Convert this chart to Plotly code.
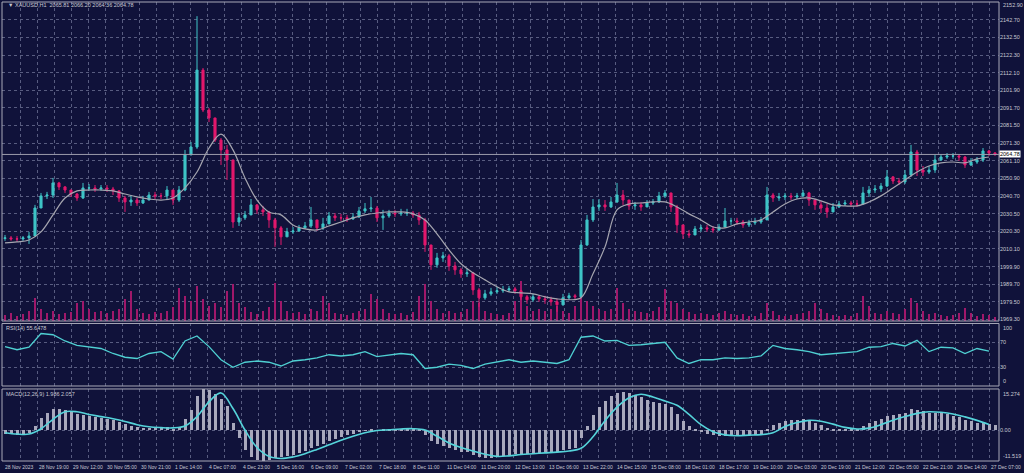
import plotly.graph_objects as go

# ---------------- data (3-hour bars) ----------------
first_open = 2016.2
close_px = [
    2016.5, 2015.9, 2015.9, 2016.5, 2017.6, 2033.8, 2040.8, 2041.3, 2048.3, 2046.0,
    2044.2, 2041.9, 2039.6, 2045.4, 2045.4, 2044.8, 2045.4, 2044.8, 2043.7, 2039.6,
    2037.3, 2038.4, 2036.7, 2038.4, 2041.3, 2040.8, 2040.8, 2044.2, 2038.4, 2044.2,
    2064.5, 2069.1, 2113.6, 2090.5, 2085.9, 2073.1, 2067.4, 2061.6, 2025.7, 2028.1,
    2029.8, 2035.6, 2032.7, 2031.5, 2026.9, 2022.3, 2017.1, 2020.0, 2020.5, 2022.3,
    2023.4, 2026.9, 2022.3, 2024.6, 2029.2, 2028.1, 2028.1, 2027.5, 2028.6, 2032.1,
    2033.3, 2033.8, 2028.1, 2029.2, 2030.9, 2030.4, 2030.9, 2030.9, 2029.8, 2026.9,
    2012.4, 2000.9, 2004.9, 2006.1, 2000.3, 1998.0, 1995.7, 1996.3, 1986.4, 1981.8,
    1984.1, 1985.3, 1985.9, 1986.4, 1987.0, 1985.9, 1982.4, 1980.7, 1982.4, 1981.2,
    1980.7, 1979.5, 1977.8, 1981.8, 1983.0, 1982.4, 2012.4, 2026.9, 2034.4, 2035.6,
    2034.4, 2037.3, 2041.3, 2038.4, 2035.0, 2035.6, 2034.4, 2036.7, 2037.3, 2040.8,
    2042.5, 2034.4, 2024.0, 2018.8, 2018.2, 2021.7, 2022.3, 2021.7, 2021.1, 2022.8,
    2026.3, 2026.3, 2025.7, 2024.0, 2025.2, 2025.7, 2026.9, 2041.3, 2039.6, 2040.2,
    2040.8, 2040.2, 2040.8, 2042.5, 2038.4, 2035.6, 2033.8, 2031.5, 2034.4, 2036.1,
    2036.7, 2036.1, 2036.1, 2042.5, 2044.2, 2044.8, 2046.5, 2051.8, 2049.4, 2048.9,
    2052.9, 2066.2, 2055.8, 2054.6, 2055.8, 2061.6, 2063.3, 2063.9, 2063.9, 2063.3,
    2058.7, 2060.4, 2061.6, 2066.8, 2065.6, 2064.78,
]
high_px = [
    2018.2, 2017.6, 2017.6, 2017.6, 2020.0, 2035.6, 2042.5, 2043.1, 2051.2, 2048.9,
    2046.5, 2044.2, 2042.5, 2048.3, 2047.7, 2047.1, 2047.1, 2047.1, 2046.0, 2044.2,
    2040.8, 2041.3, 2039.6, 2040.8, 2043.1, 2043.1, 2042.5, 2046.5, 2044.2, 2046.5,
    2067.4, 2072.0, 2144.8, 2114.8, 2091.7, 2085.9, 2074.3, 2070.3, 2061.6, 2030.9,
    2032.1, 2039.0, 2036.1, 2035.0, 2032.1, 2028.1, 2023.4, 2022.3, 2022.8, 2024.0,
    2025.7, 2034.4, 2025.7, 2028.1, 2031.5, 2030.9, 2030.4, 2029.8, 2030.9, 2034.4,
    2036.7, 2040.2, 2035.0, 2032.7, 2032.7, 2032.7, 2033.3, 2033.3, 2032.1, 2031.5,
    2028.1, 2010.7, 2007.8, 2008.4, 2007.2, 2002.6, 1999.2, 1998.6, 1996.8, 1987.6,
    1986.4, 1987.6, 1988.2, 1988.7, 1988.7, 1988.2, 1986.4, 1983.5, 1984.1, 1983.5,
    1983.0, 1982.4, 1981.2, 1984.1, 1984.7, 1984.1, 2015.3, 2029.8, 2039.0, 2039.0,
    2038.4, 2040.2, 2048.3, 2044.2, 2038.4, 2037.3, 2037.3, 2038.4, 2039.0, 2043.1,
    2044.2, 2042.5, 2035.6, 2023.4, 2021.1, 2023.4, 2024.0, 2024.0, 2023.4, 2024.6,
    2033.8, 2028.1, 2028.1, 2026.9, 2026.9, 2028.1, 2028.6, 2046.0, 2042.5, 2042.5,
    2042.5, 2042.5, 2042.5, 2044.2, 2043.1, 2039.0, 2037.9, 2036.1, 2036.7, 2037.9,
    2038.4, 2037.9, 2038.4, 2046.0, 2046.5, 2047.1, 2048.3, 2055.8, 2052.3, 2051.2,
    2055.8, 2070.3, 2067.4, 2058.1, 2058.1, 2064.5, 2065.0, 2065.6, 2065.6, 2065.0,
    2063.9, 2062.7, 2063.3, 2068.5, 2067.4, 2066.2,
]
low_px = [
    2014.8, 2014.8, 2014.2, 2014.8, 2013.0, 2018.2, 2033.8, 2039.0, 2039.6, 2044.2,
    2042.5, 2040.2, 2037.9, 2039.0, 2043.7, 2043.1, 2043.7, 2043.1, 2041.3, 2037.3,
    2031.5, 2035.0, 2035.0, 2036.1, 2039.0, 2039.0, 2039.0, 2039.0, 2035.6, 2037.3,
    2043.5, 2064.5, 2068.0, 2089.3, 2083.5, 2072.0, 2058.7, 2050.0, 2022.3, 2023.4,
    2026.9, 2030.9, 2030.4, 2029.2, 2022.3, 2011.3, 2012.4, 2017.6, 2018.8, 2020.0,
    2021.7, 2022.3, 2020.5, 2021.1, 2025.7, 2026.3, 2026.3, 2025.7, 2026.9, 2028.1,
    2030.9, 2031.5, 2025.7, 2021.1, 2028.1, 2028.6, 2029.2, 2029.2, 2028.1, 2024.0,
    2008.4, 1998.0, 1999.2, 2002.6, 1997.4, 1995.1, 1993.4, 1993.9, 1983.5, 1976.6,
    1980.7, 1983.0, 1984.1, 1984.7, 1985.3, 1984.1, 1980.7, 1978.3, 1979.5, 1979.5,
    1978.3, 1977.2, 1973.7, 1977.2, 1980.7, 1980.7, 1981.8, 2011.9, 2025.7, 2032.1,
    2032.1, 2033.8, 2036.7, 2035.6, 2032.7, 2032.7, 2032.1, 2035.0, 2035.6, 2036.7,
    2039.6, 2031.5, 2019.4, 2015.9, 2016.5, 2018.8, 2020.0, 2020.0, 2019.4, 2020.5,
    2023.4, 2024.0, 2024.0, 2022.3, 2022.8, 2024.0, 2024.6, 2028.1, 2037.3, 2037.9,
    2038.4, 2038.4, 2039.0, 2040.2, 2035.0, 2032.7, 2030.9, 2028.1, 2031.5, 2033.8,
    2035.0, 2034.4, 2034.4, 2035.6, 2040.2, 2042.5, 2043.1, 2046.0, 2047.7, 2047.1,
    2047.7, 2051.8, 2052.3, 2052.3, 2053.5, 2054.1, 2061.0, 2062.2, 2062.2, 2061.0,
    2057.0, 2058.1, 2059.3, 2060.4, 2063.9, 2063.9,
]
volume_ticks = [
    1200, 1600, 1000, 1400, 2000, 4600, 2400, 1600, 2000, 1400,
    1600, 1800, 3600, 4000, 2400, 1800, 2000, 1600, 2000, 2400,
    4400, 6000, 2400, 1600, 1400, 1800, 1600, 2000, 2800, 6600,
    5000, 4000, 7000, 4400, 3000, 3600, 2800, 6000, 7400, 3600,
    2800, 1800, 1400, 2000, 2800, 7600, 4000, 2000, 1600, 1800,
    1400, 2400, 2000, 5000, 3600, 1600, 1400, 1200, 1600, 2000,
    2400, 5400, 4400, 2400, 1600, 1400, 1600, 1200, 1800, 5000,
    7400, 4000, 2400, 1600, 2000, 1600, 1800, 2400, 4000, 3600,
    2000, 1600, 1400, 1200, 1600, 4000, 8000, 3000, 2000, 2400,
    2000, 2400, 3000, 2000, 1600, 3000, 7400, 4000, 3000, 2400,
    2000, 2400, 6600, 3600, 2400, 2000, 1800, 1600, 2000, 2800,
    6400, 4000, 3600, 2400, 1800, 1400, 1600, 1400, 1200, 1600,
    2000, 1400, 1200, 1400, 1000, 1000, 1600, 3600, 2000, 1200,
    1000, 1200, 1400, 1600, 2000, 3600, 2400, 1600, 1200, 1000,
    1200, 1000, 1600, 5000, 3000, 1600, 1400, 2000, 1600, 1400,
    2400, 4600, 3600, 2000, 1400, 1600, 1200, 1000, 1200, 1600,
    2600, 1600, 1000, 1400, 1200, 800,
]
macd_main = [
    -1.5, -1.6, -1.7, -1.6, -1.2, 1.5, 4.5, 6.5, 8.0, 8.0,
    7.5, 6.8, 5.8, 5.5, 5.2, 4.8, 4.4, 4.0, 3.6, 3.0,
    2.2, 1.6, 1.0, 0.8, 0.9, 0.9, 0.8, 1.0, 0.5, 0.8,
    4.0, 7.5, 12.5, 15.27, 15.0, 13.5, 11.5, 9.0, 2.5, -3.0,
    -7.5, -10.0, -11.2, -11.5, -11.0, -10.5, -10.2, -9.8, -9.2, -8.5,
    -7.8, -6.8, -6.0, -5.2, -4.2, -3.4, -2.7, -2.0, -1.4, -0.8,
    -0.3, 0.1, 0.0, 0.1, 0.3, 0.4, 0.5, 0.6, 0.6, 0.2,
    -1.8, -4.0, -5.3, -6.0, -6.8, -7.5, -8.0, -8.3, -9.3, -10.2,
    -10.4, -10.3, -10.0, -9.6, -9.2, -8.8, -8.8, -8.9, -8.6, -8.4,
    -8.2, -8.1, -8.2, -7.6, -7.0, -6.5, -3.0, 1.5, 5.5, 8.5,
    10.8, 12.5, 13.8, 14.2, 13.8, 13.0, 12.2, 11.2, 10.3, 10.0,
    9.8, 8.5, 6.0, 3.5, 1.5, 0.2, -0.8, -1.5, -2.0, -2.3,
    -2.2, -2.0, -1.8, -1.8, -1.7, -1.7, -1.6, 0.5, 1.8, 2.6,
    3.2, 3.6, 3.8, 4.0, 3.4, 2.6, 1.8, 0.9, 0.5, 0.3,
    0.2, 0.2, 0.3, 1.5, 2.6, 3.4, 4.2, 5.2, 5.6, 5.8,
    6.2, 7.8, 7.5, 7.0, 6.5, 6.5, 6.3, 5.9, 5.4, 4.9,
    3.8, 3.2, 2.7, 2.6, 2.2, 1.986,
]
# indicator lines read every 6 hours
ma_vals = [
    2013.6, 2014.2, 2015.3, 2020.0, 2029.8, 2039.6, 2043.7, 2044.2, 2044.2, 2043.7,
    2041.9, 2040.2, 2039.0, 2038.4, 2039.6, 2045.4, 2054.6, 2068.5, 2076.6, 2067.4,
    2051.2, 2038.4, 2031.5, 2029.8, 2024.0, 2021.7, 2021.1, 2023.4, 2025.7, 2028.1,
    2029.8, 2030.9, 2031.5, 2031.5, 2030.4, 2026.9, 2018.8, 2009.6, 2001.5, 1996.3,
    1992.2, 1988.2, 1985.3, 1984.7, 1984.1, 1982.4, 1981.2, 1980.7, 1981.8, 1995.7,
    2011.3, 2032.7, 2036.1, 2036.7, 2037.3, 2037.3, 2034.4, 2030.4, 2026.9, 2022.8,
    2022.3, 2024.6, 2025.7, 2026.9, 2031.5, 2036.1, 2039.0, 2039.6, 2037.9, 2035.6,
    2035.0, 2035.0, 2037.3, 2040.8, 2045.4, 2050.0, 2054.6, 2058.1, 2059.9, 2060.4,
    2059.9, 2062.2, 2063.3,
]
rsi_vals = [
    63, 58, 62, 84, 82, 72, 65, 63, 60, 52,
    46, 44, 52, 55, 43, 72, 80, 63, 42, 30,
    38, 40, 38, 32, 40, 42, 45, 50, 48, 50,
    55, 47, 50, 52, 50, 28, 30, 35, 33, 28,
    35, 38, 42, 38, 40, 38, 36, 42, 78, 80,
    72, 73, 65, 66, 68, 70, 45, 36, 42, 42,
    45, 44, 45, 48, 65, 60, 58, 55, 50, 52,
    53, 55, 62, 63, 68, 64, 73, 55, 62, 61,
    52, 60, 55.65,
]
macd_signal = [
    -1.0, -1.5, -1.5, 0.5, 4.0, 6.8, 6.8, 5.8, 5.0, 4.2,
    3.2, 2.0, 1.2, 0.9, 0.8, 1.5, 5.0, 10.5, 13.8, 8.0,
    0.0, -6.5, -9.8, -10.6, -10.0, -8.8, -7.2, -5.5, -3.8, -2.3,
    -1.0, -0.2, 0.1, 0.4, 0.5, 0.0, -2.3, -4.8, -6.5, -7.8,
    -9.0, -9.8, -9.6, -9.1, -8.8, -8.5, -8.2, -7.8, -6.8, -2.5,
    3.5, 8.5, 12.0, 13.3, 12.3, 10.8, 9.2, 5.8, 2.0, -0.6,
    -1.8, -2.1, -1.9, -1.7, -1.0, 1.3, 2.8, 3.6, 3.3, 2.2,
    1.0, 0.4, 0.7, 2.0, 3.6, 5.0, 6.2, 6.8, 6.6, 6.0,
    4.9, 3.6, 2.057,
]
time_labels = [
    "28 Nov 2023", "28 Nov 19:00", "29 Nov 12:00", "30 Nov 05:00", "30 Nov 21:00",
    "1 Dec 14:00", "4 Dec 07:00", "4 Dec 23:00", "5 Dec 16:00", "6 Dec 09:00",
    "7 Dec 02:00", "7 Dec 18:00", "8 Dec 11:00", "11 Dec 04:00", "11 Dec 20:00",
    "12 Dec 13:00", "13 Dec 06:00", "13 Dec 22:00", "14 Dec 15:00", "15 Dec 08:00",
    "18 Dec 01:00", "18 Dec 17:00", "19 Dec 10:00", "20 Dec 03:00", "20 Dec 19:00",
    "21 Dec 12:00", "22 Dec 05:00", "22 Dec 21:00", "26 Dec 14:00", "27 Dec 07:00",
]
price_levels = [2152.9, 2142.7, 2132.5, 2122.3, 2112.1, 2101.9, 2091.7, 2081.5, 2071.3,
                2061.1, 2050.9, 2040.7, 2030.5, 2020.3, 2010.1, 1999.9, 1989.7, 1979.5, 1969.3]
rsi_grid = [70, 30]
rsi_edge_text = ["100", "0"]
macd_edge_text = ["15.274", "-11.519"]
macd_zero_text = "0.00"
last_price = 2064.78
header_text = "▼ XAUUSD,H1  2065.81 2066.20 2064.36 2064.78"
rsi_text = "RSI(14) 55.6478"
macd_text = "MACD(12,26,9) 1.986 2.057"

# ---------------- positions ----------------
N = len(close_px)
bar_hours = [3 * i + 1 for i in range(N)]
ind_hours = [6 * j + 1 for j in range(len(ma_vals))]
open_px = [first_open] + close_px[:-1]
hi = [max(h, o, c) for h, o, c in zip(high_px, open_px, close_px)]
lo = [min(l, o, c) for l, o, c in zip(low_px, open_px, close_px)]
grid_hours = [8.5 * k for k in range(1, 59)]

BG = "#10123a"
GRID = "#585c80"
DASH = "3px,3px"
TXT = "#c9c9d3"
BULL = "#3ec4c6"
BEAR = "#e2186c"
BORDER = "#a9a9b8"
FONT = "Liberation Sans"

D_MAIN = [0.305, 1.0]
D_RSI = [0.1634, 0.2996]
D_MACD = [0.0, 0.1569]

fig = go.Figure()
fig.add_trace(go.Bar(x=bar_hours, y=volume_ticks, xaxis="x", yaxis="y", width=1.4,
                     marker=dict(color="#a0186a", line=dict(width=0))))
fig.add_trace(go.Candlestick(x=bar_hours, open=open_px, high=hi, low=lo, close=close_px,
                             xaxis="x", yaxis="y4", whiskerwidth=0,
                             increasing=dict(line=dict(color=BULL, width=1), fillcolor=BULL),
                             decreasing=dict(line=dict(color=BEAR, width=1), fillcolor=BEAR)))
fig.add_trace(go.Scatter(x=ind_hours, y=ma_vals, xaxis="x", yaxis="y4", mode="lines",
                         line=dict(color="#a6a6b0", width=1.2, shape="spline")))
fig.add_trace(go.Scatter(x=ind_hours, y=rsi_vals, xaxis="x2", yaxis="y2", mode="lines",
                         line=dict(color="#4fd0d2", width=1.3)))
fig.add_trace(go.Bar(x=bar_hours, y=macd_main, xaxis="x3", yaxis="y3", width=1.5,
                     marker=dict(color="#a8a8bc", line=dict(width=0))))
fig.add_trace(go.Scatter(x=ind_hours, y=macd_signal, xaxis="x3", yaxis="y3", mode="lines",
                         line=dict(color="#55d4da", width=1.6, shape="spline")))

xcommon = dict(range=[-0.5, 498], showgrid=True, gridcolor=GRID, griddash=DASH, gridwidth=1,
               tickvals=grid_hours, showticklabels=False, zeroline=False, showline=False,
               ticks="", fixedrange=True)
tickfont = dict(size=5.5, color=TXT, family=FONT)
small = dict(size=5.5, color=TXT, family=FONT)
tiny = dict(size=5, color=TXT, family=FONT)

annotations = [
    dict(xref="paper", yref="paper", x=0.004, y=1.0, xanchor="left", yanchor="top", yshift=2,
         text=header_text, showarrow=False, font=small),
    dict(xref="paper", yref="paper", x=0.002, y=D_RSI[1], xanchor="left", yanchor="top",
         text=rsi_text, showarrow=False, font=small),
    dict(xref="paper", yref="paper", x=0.002, y=D_MACD[1], xanchor="left", yanchor="top",
         text=macd_text, showarrow=False, font=small),
    dict(xref="paper", yref="y4", x=1.0, y=last_price, xanchor="left", yanchor="middle",
         text=f"{last_price:.2f}", showarrow=False, bgcolor="#ffffff", borderpad=0,
         font=dict(size=5.5, color="#000000", family=FONT)),
    dict(xref="paper", yref="paper", x=1.0, y=1.0, xanchor="left", yanchor="top", xshift=2, yshift=2,
         text=f"{price_levels[0]:.2f}", showarrow=False, font=small),
    dict(xref="paper", yref="paper", x=1.0, y=D_RSI[1], xanchor="left", yanchor="top", xshift=2,
         text=rsi_edge_text[0], showarrow=False, font=small),
    dict(xref="paper", yref="paper", x=1.0, y=D_RSI[0], xanchor="left", yanchor="bottom", xshift=2,
         text=rsi_edge_text[1], showarrow=False, font=small),
    dict(xref="paper", yref="paper", x=1.0, y=D_MACD[1], xanchor="left", yanchor="top", xshift=2,
         text=macd_edge_text[0], showarrow=False, font=small),
    dict(xref="paper", yref="paper", x=1.0, y=D_MACD[0], xanchor="left", yanchor="bottom", xshift=2,
         text=macd_edge_text[1], showarrow=False, font=small),
]
for k, lab in enumerate(time_labels):
    annotations.append(dict(xref="x3", yref="paper", x=17 * k, y=0,
                            xanchor="left", yanchor="top",
                            yshift=-1, text=lab, showarrow=False, font=tiny))

shapes = []
for dom in (D_MAIN, D_RSI, D_MACD):
    shapes.append(dict(type="rect", xref="paper", yref="paper", x0=0, x1=1, y0=dom[0], y1=dom[1],
                       line=dict(color=BORDER, width=1), fillcolor="rgba(0,0,0,0)", layer="above"))
shapes.append(dict(type="line", xref="paper", yref="y4", x0=0, x1=1, y0=last_price, y1=last_price,
                   line=dict(color="#9c9cac", width=1), layer="above"))

fig.update_layout(
    width=1024, height=473,
    margin=dict(l=2, r=25, t=2, b=12),
    paper_bgcolor=BG, plot_bgcolor=BG,
    showlegend=False,
    font=dict(family=FONT, color=TXT, size=6),
    boxgap=0.5,
    xaxis=dict(**xcommon, anchor="y", domain=[0, 1], rangeslider=dict(visible=False)),
    xaxis2=dict(**xcommon, anchor="y2", matches="x", domain=[0, 1]),
    xaxis3=dict(**xcommon, anchor="y3", matches="x", domain=[0, 1]),
    yaxis=dict(domain=D_MAIN, range=[0, 63800], visible=False, fixedrange=True),
    yaxis4=dict(overlaying="y", side="right", anchor="x", range=[1968.4, 2153.0],
                tickvals=price_levels[1:], ticktext=[f"{v:.2f}" for v in price_levels[1:]],
                showgrid=True, gridcolor=GRID, griddash=DASH, zeroline=False, ticks="",
                tickfont=tickfont, fixedrange=True),
    yaxis2=dict(domain=D_RSI, side="right", anchor="x2", range=[0, 100], tickvals=rsi_grid,
                showgrid=True, gridcolor=GRID, griddash=DASH, zeroline=False, ticks="",
                tickfont=tickfont, fixedrange=True),
    yaxis3=dict(domain=D_MACD, side="right", anchor="x3", range=[-11.519, 15.274],
                tickvals=[0], ticktext=[macd_zero_text],
                showgrid=True, gridcolor=GRID, griddash=DASH, zeroline=False, ticks="",
                tickfont=tickfont, fixedrange=True),
    annotations=annotations,
    shapes=shapes,
    bargap=0,
)

fig.write_html("out.html", config={"displayModeBar": False},
               post_script="document.body.style.margin='0';document.body.style.background='#10123a';")
